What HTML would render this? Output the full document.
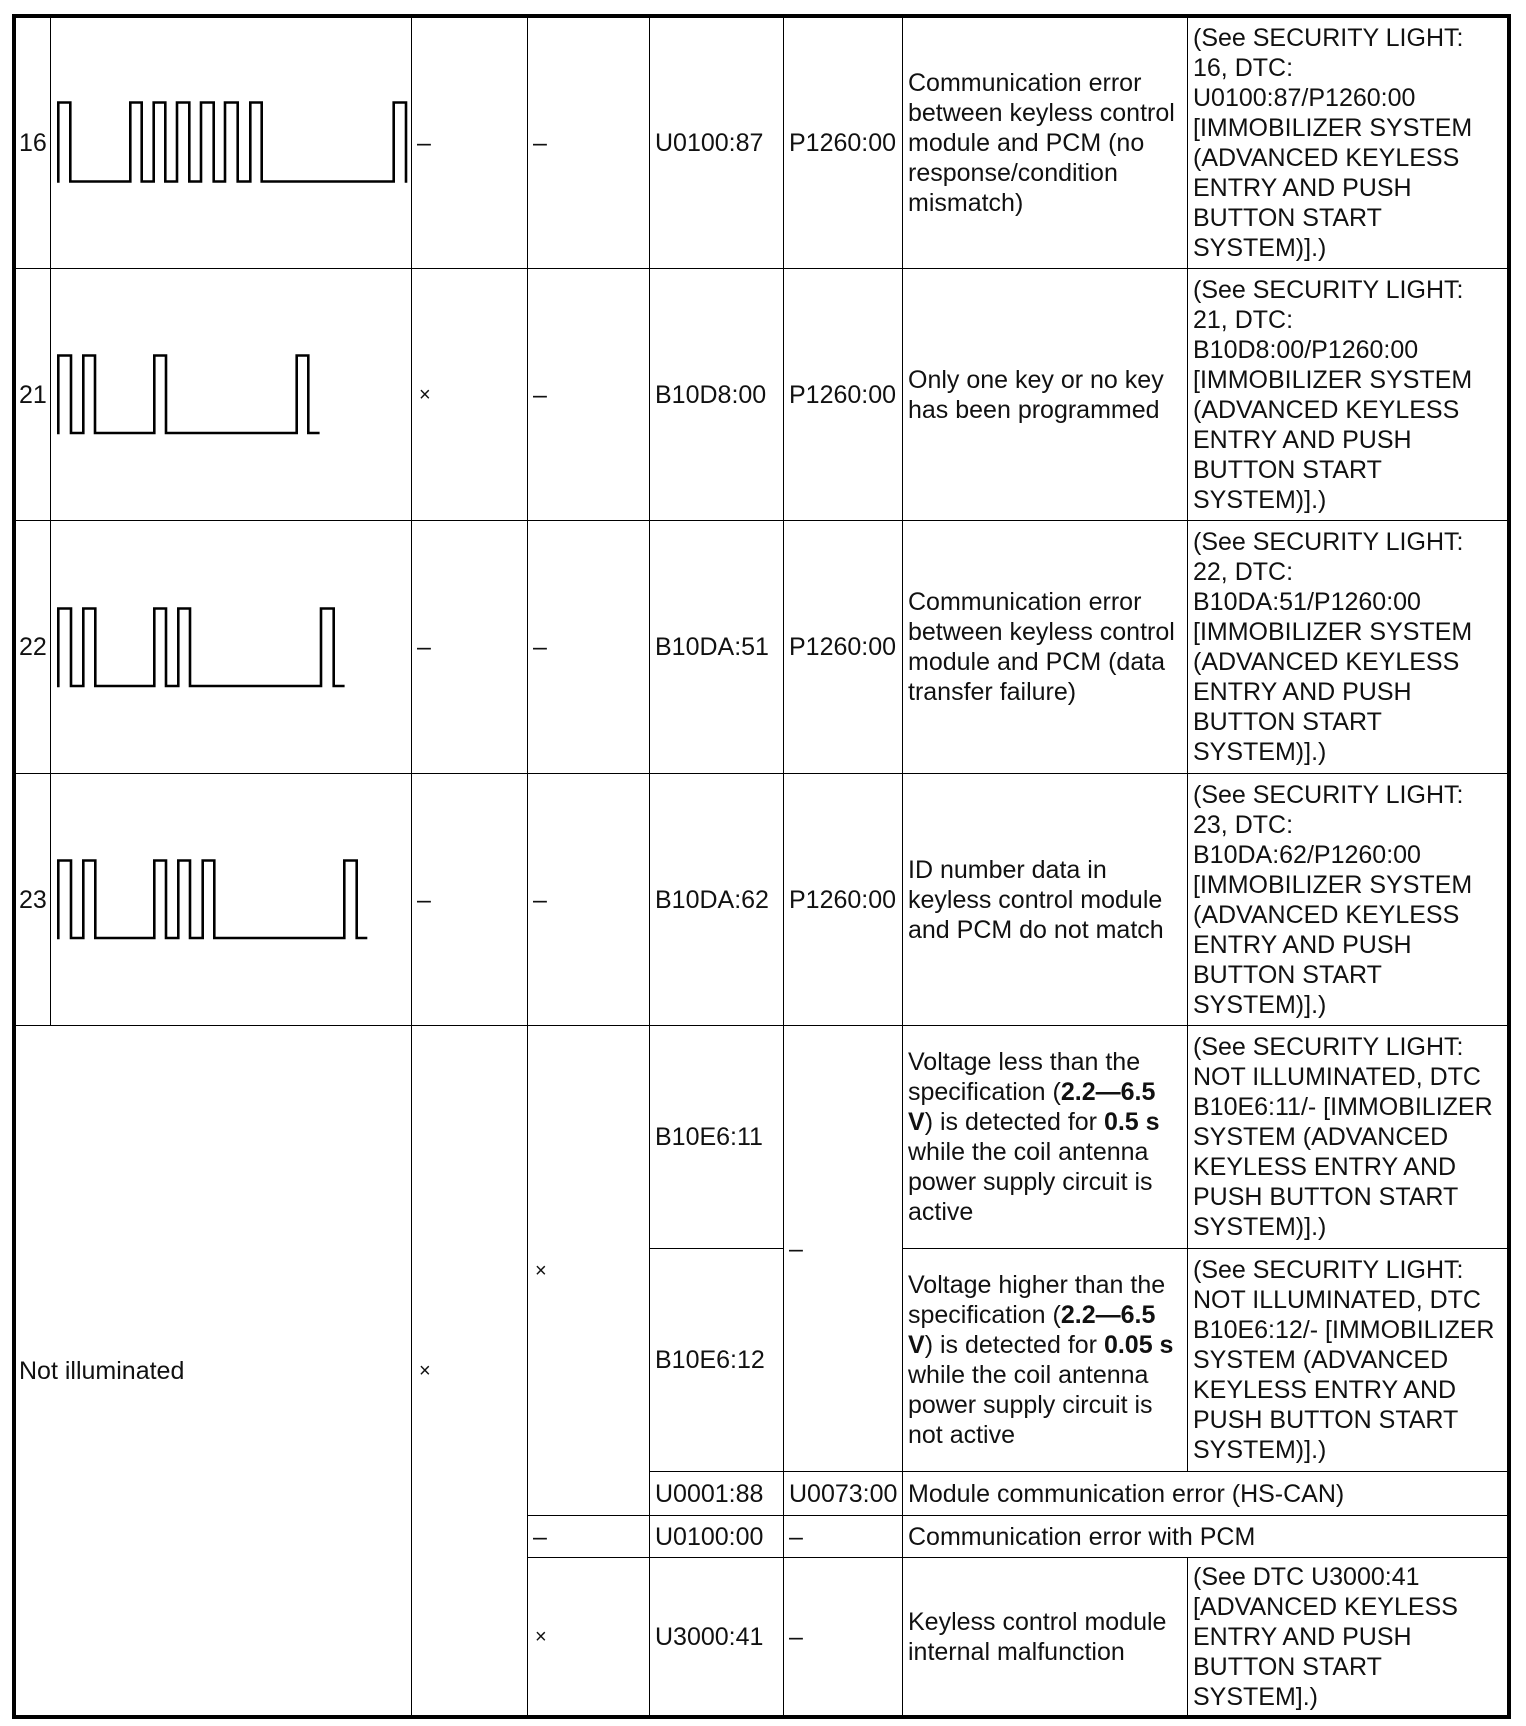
<!DOCTYPE html>
<html>
<head>
<meta charset="utf-8">
<style>
html,body{margin:0;padding:0;background:#fff;}
#pg{position:relative;width:1526px;height:1726px;overflow:hidden;background:#fff;}
.c{position:absolute;display:flex;align-items:center;padding-left:5px;box-sizing:border-box;white-space:nowrap;font-family:"Liberation Sans",Arial,Helvetica,sans-serif;font-size:25px;line-height:30px;color:#111;}
.c div{white-space:nowrap;}
.x{font-size:20px;}
.h{position:absolute;height:1px;background:#000;}
.v{position:absolute;width:1px;background:#000;}
#outer{position:absolute;left:12px;top:14px;width:1499px;height:1705px;border:4px solid #000;box-sizing:border-box;}
svg{position:absolute;left:0;top:0;}
b{font-weight:bold;}
</style>
</head>
<body>
<div id="pg">
<div id="outer"></div>

<!-- vertical lines -->
<div class="v" style="left:50px;top:14px;height:1011px"></div>
<div class="v" style="left:411px;top:14px;height:1705px"></div>
<div class="v" style="left:527px;top:14px;height:1705px"></div>
<div class="v" style="left:649px;top:14px;height:1705px"></div>
<div class="v" style="left:783px;top:14px;height:1705px"></div>
<div class="v" style="left:902px;top:14px;height:1705px"></div>
<div class="v" style="left:1187px;top:14px;height:1457px"></div>
<div class="v" style="left:1187px;top:1557px;height:162px"></div>

<!-- horizontal lines -->
<div class="h" style="left:12px;top:268px;width:1499px"></div>
<div class="h" style="left:12px;top:520px;width:1499px"></div>
<div class="h" style="left:12px;top:773px;width:1499px"></div>
<div class="h" style="left:12px;top:1025px;width:1499px"></div>
<div class="h" style="left:649px;top:1248px;width:135px"></div>
<div class="h" style="left:902px;top:1248px;width:609px"></div>
<div class="h" style="left:649px;top:1471px;width:862px"></div>
<div class="h" style="left:527px;top:1515px;width:984px"></div>
<div class="h" style="left:527px;top:1557px;width:984px"></div>

<!-- waveforms -->
<svg width="1526" height="1726" viewBox="0 0 1526 1726">
<g fill="none" stroke="#000" stroke-width="2.6" stroke-linejoin="miter" stroke-linecap="square">
<path d="M58.3,181.5 V102.5 H70.3 V181.5 H130.3 V102.5 H141.7 V181.5 H153.7 V102.5 H165.3 V181.5 H177 V102.5 H189.3 V181.5 H201 V102.5 H213.7 V181.5 H225 V102.5 H237.7 V181.5 H250.3 V102.5 H261.7 V181.5 H393.7 V102.5 H406 V181.5"/>
<path d="M58.3,433 V355.5 H71 V433 H83.3 V355.5 H95 V433 H154.3 V355.5 H166 V433 H296.7 V355.5 H308.3 V433 H318.3"/>
<path d="M58.3,686 V608.5 H71 V686 H83.3 V608.5 H95.3 V686 H154.3 V608.5 H166 V686 H178.3 V608.5 H190 V686 H321 V608.5 H333.7 V686 H343.3"/>
<path d="M58.3,938 V860.5 H71 V938 H83.3 V860.5 H95.3 V938 H154.3 V860.5 H166 V938 H178.3 V860.5 H190 V938 H202.7 V860.5 H214.3 V938 H344.3 V860.5 H356.7 V938 H366"/>
</g>
</svg>

<!-- Row 16 -->
<div class="c" style="left:16px;top:18px;width:34px;height:250px;padding-left:3px">16</div>
<div class="c" style="left:412px;top:18px;width:115px;height:250px">–</div>
<div class="c" style="left:528px;top:18px;width:121px;height:250px">–</div>
<div class="c" style="left:650px;top:18px;width:133px;height:250px">U0100:87</div>
<div class="c" style="left:784px;top:18px;width:118px;height:250px">P1260:00</div>
<div class="c" style="left:903px;top:18px;width:284px;height:250px"><div>Communication error<br>between keyless control<br>module and PCM (no<br>response/condition<br>mismatch)</div></div>
<div class="c" style="left:1188px;top:18px;width:319px;height:250px"><div>(See SECURITY LIGHT:<br>16, DTC:<br>U0100:87/P1260:00<br>[IMMOBILIZER SYSTEM<br>(ADVANCED KEYLESS<br>ENTRY AND PUSH<br>BUTTON START<br>SYSTEM)].)</div></div>

<!-- Row 21 -->
<div class="c" style="left:16px;top:269px;width:34px;height:251px;padding-left:3px">21</div>
<div class="c x" style="left:412px;top:269px;width:115px;height:251px;padding-left:7px">×</div>
<div class="c" style="left:528px;top:269px;width:121px;height:251px">–</div>
<div class="c" style="left:650px;top:269px;width:133px;height:251px">B10D8:00</div>
<div class="c" style="left:784px;top:269px;width:118px;height:251px">P1260:00</div>
<div class="c" style="left:903px;top:269px;width:284px;height:251px"><div>Only one key or no key<br>has been programmed</div></div>
<div class="c" style="left:1188px;top:269px;width:319px;height:251px"><div>(See SECURITY LIGHT:<br>21, DTC:<br>B10D8:00/P1260:00<br>[IMMOBILIZER SYSTEM<br>(ADVANCED KEYLESS<br>ENTRY AND PUSH<br>BUTTON START<br>SYSTEM)].)</div></div>

<!-- Row 22 -->
<div class="c" style="left:16px;top:521px;width:34px;height:252px;padding-left:3px">22</div>
<div class="c" style="left:412px;top:521px;width:115px;height:252px">–</div>
<div class="c" style="left:528px;top:521px;width:121px;height:252px">–</div>
<div class="c" style="left:650px;top:521px;width:133px;height:252px">B10DA:51</div>
<div class="c" style="left:784px;top:521px;width:118px;height:252px">P1260:00</div>
<div class="c" style="left:903px;top:521px;width:284px;height:252px"><div>Communication error<br>between keyless control<br>module and PCM (data<br>transfer failure)</div></div>
<div class="c" style="left:1188px;top:521px;width:319px;height:252px"><div>(See SECURITY LIGHT:<br>22, DTC:<br>B10DA:51/P1260:00<br>[IMMOBILIZER SYSTEM<br>(ADVANCED KEYLESS<br>ENTRY AND PUSH<br>BUTTON START<br>SYSTEM)].)</div></div>

<!-- Row 23 -->
<div class="c" style="left:16px;top:774px;width:34px;height:251px;padding-left:3px">23</div>
<div class="c" style="left:412px;top:774px;width:115px;height:251px">–</div>
<div class="c" style="left:528px;top:774px;width:121px;height:251px">–</div>
<div class="c" style="left:650px;top:774px;width:133px;height:251px">B10DA:62</div>
<div class="c" style="left:784px;top:774px;width:118px;height:251px">P1260:00</div>
<div class="c" style="left:903px;top:774px;width:284px;height:251px"><div>ID number data in<br>keyless control module<br>and PCM do not match</div></div>
<div class="c" style="left:1188px;top:774px;width:319px;height:251px"><div>(See SECURITY LIGHT:<br>23, DTC:<br>B10DA:62/P1260:00<br>[IMMOBILIZER SYSTEM<br>(ADVANCED KEYLESS<br>ENTRY AND PUSH<br>BUTTON START<br>SYSTEM)].)</div></div>

<!-- Not illuminated block -->
<div class="c" style="left:16px;top:1026px;width:395px;height:689px;padding-left:3px">Not illuminated</div>
<div class="c x" style="left:412px;top:1026px;width:115px;height:689px;padding-left:7px">×</div>
<div class="c x" style="left:528px;top:1026px;width:121px;height:489px;padding-left:7px">×</div>
<div class="c" style="left:528px;top:1516px;width:121px;height:41px">–</div>
<div class="c x" style="left:528px;top:1558px;width:121px;height:157px;padding-left:7px">×</div>

<div class="c" style="left:650px;top:1026px;width:133px;height:222px">B10E6:11</div>
<div class="c" style="left:650px;top:1249px;width:133px;height:222px">B10E6:12</div>
<div class="c" style="left:650px;top:1472px;width:133px;height:43px">U0001:88</div>
<div class="c" style="left:650px;top:1516px;width:133px;height:41px">U0100:00</div>
<div class="c" style="left:650px;top:1558px;width:133px;height:157px">U3000:41</div>

<div class="c" style="left:784px;top:1026px;width:118px;height:445px">–</div>
<div class="c" style="left:784px;top:1472px;width:118px;height:43px">U0073:00</div>
<div class="c" style="left:784px;top:1516px;width:118px;height:41px">–</div>
<div class="c" style="left:784px;top:1558px;width:118px;height:157px">–</div>

<div class="c" style="left:903px;top:1026px;width:284px;height:222px"><div>Voltage less than the<br>specification (<b>2.2—6.5</b><br><b>V</b>) is detected for <b>0.5 s</b><br>while the coil antenna<br>power supply circuit is<br>active</div></div>
<div class="c" style="left:903px;top:1249px;width:284px;height:222px"><div>Voltage higher than the<br>specification (<b>2.2—6.5</b><br><b>V</b>) is detected for <b>0.05 s</b><br>while the coil antenna<br>power supply circuit is<br>not active</div></div>
<div class="c" style="left:903px;top:1472px;width:604px;height:43px">Module communication error (HS-CAN)</div>
<div class="c" style="left:903px;top:1516px;width:604px;height:41px">Communication error with PCM</div>
<div class="c" style="left:903px;top:1558px;width:284px;height:157px"><div>Keyless control module<br>internal malfunction</div></div>

<div class="c" style="left:1188px;top:1026px;width:319px;height:222px"><div>(See SECURITY LIGHT:<br>NOT ILLUMINATED, DTC<br>B10E6:11/- [IMMOBILIZER<br>SYSTEM (ADVANCED<br>KEYLESS ENTRY AND<br>PUSH BUTTON START<br>SYSTEM)].)</div></div>
<div class="c" style="left:1188px;top:1249px;width:319px;height:222px"><div>(See SECURITY LIGHT:<br>NOT ILLUMINATED, DTC<br>B10E6:12/- [IMMOBILIZER<br>SYSTEM (ADVANCED<br>KEYLESS ENTRY AND<br>PUSH BUTTON START<br>SYSTEM)].)</div></div>
<div class="c" style="left:1188px;top:1558px;width:319px;height:157px"><div>(See DTC U3000:41<br>[ADVANCED KEYLESS<br>ENTRY AND PUSH<br>BUTTON START<br>SYSTEM].)</div></div>

</div>
</body>
</html>
